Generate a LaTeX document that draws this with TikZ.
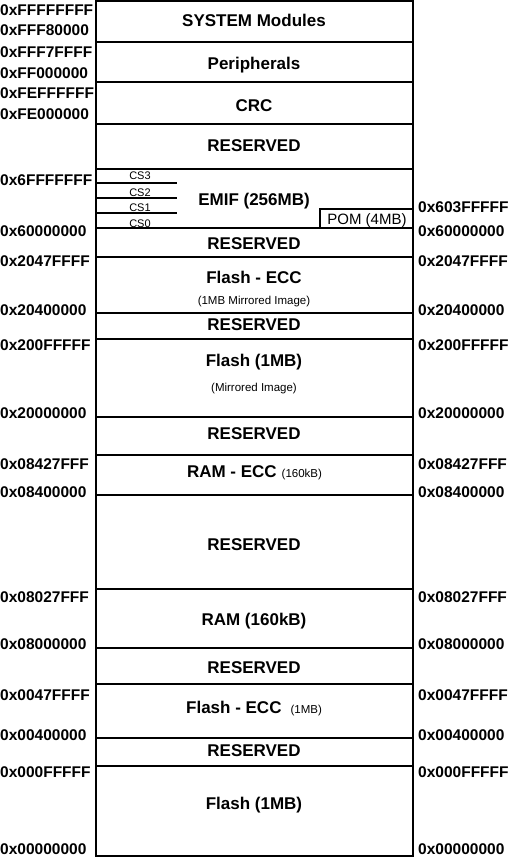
\documentclass[tikz,border=0pt]{standalone}
\usepackage{fontspec}
\setmainfont{Liberation Sans}
\begin{document}
\begin{tikzpicture}[x=1pt,y=-1pt,
  addr/.style={font=\fontsize{15.5}{16}\selectfont\bfseries, anchor=base west, inner sep=0pt},
  big/.style={font=\fontsize{17}{18}\selectfont\bfseries, anchor=base, inner sep=0pt},
  note/.style={font=\fontsize{11.5}{12}\selectfont, anchor=base, inner sep=0pt},
  cs/.style={font=\fontsize{11}{12}\selectfont, anchor=base, inner sep=0pt},
  divider/.style={line width=1.5pt},
  frame/.style={line width=1.6pt}]
\useasboundingbox (0,0) rectangle (509,857);
% outer frame
\draw[frame] (96,1) rectangle (413,856);
% dividers
\foreach \yy in {42,82,124,169,228,257,313,339,417,455,495,589,648,684,738,766}
  \draw[divider] (96,\yy) -- (413,\yy);
% CS lines
\foreach \yy in {183,198,213}
  \draw[line width=1.2pt] (96,\yy) -- (177,\yy);
% POM box
\draw[line width=1.2pt] (320,228) -- (320,209) -- (413,209);
% left addresses
\node[addr] (l1) at (0,15.5) {0xFFFFFFFF};
\node[addr] (l2) at (0,35.5) {0xFFF80000};
\node[addr] (l3) at (0,57.5) {0xFFF7FFFF};
\node[addr] (l4) at (0,78.5) {0xFF000000};
\node[addr] (l5) at (0,98.5) {0xFEFFFFFF};
\node[addr] (l6) at (0,119.5) {0xFE000000};
\node[addr] (l7) at (0,185.5) {0x6FFFFFFF};
\node[addr] (l8) at (0,236.5) {0x60000000};
\node[addr] (l9) at (0,266.5) {0x2047FFFF};
\node[addr] (l10) at (0,315) {0x20400000};
\node[addr] (l11) at (0,350.5) {0x200FFFFF};
\node[addr] (l12) at (0,418) {0x20000000};
\node[addr] (l13) at (0,469) {0x08427FFF};
\node[addr] (l14) at (0,497) {0x08400000};
\node[addr] (l15) at (0,602) {0x08027FFF};
\node[addr] (l16) at (0,649) {0x08000000};
\node[addr] (l17) at (0,700.5) {0x0047FFFF};
\node[addr] (l18) at (0,740.5) {0x00400000};
\node[addr] (l19) at (0,777) {0x000FFFFF};
\node[addr] (l20) at (0,854.5) {0x00000000};
% right addresses
\node[addr] (r1) at (418,212.5) {0x603FFFFF};
\node[addr] (r2) at (418,236.5) {0x60000000};
\node[addr] (r3) at (418,266.5) {0x2047FFFF};
\node[addr] (r4) at (418,315) {0x20400000};
\node[addr] (r5) at (418,350.5) {0x200FFFFF};
\node[addr] (r6) at (418,418) {0x20000000};
\node[addr] (r7) at (418,469) {0x08427FFF};
\node[addr] (r8) at (418,497) {0x08400000};
\node[addr] (r9) at (418,602) {0x08027FFF};
\node[addr] (r10) at (418,649) {0x08000000};
\node[addr] (r11) at (418,700.5) {0x0047FFFF};
\node[addr] (r12) at (418,740.5) {0x00400000};
\node[addr] (r13) at (418,777) {0x000FFFFF};
\node[addr] (r14) at (418,854.5) {0x00000000};
% region labels
\node[big] (sys) at (254,26) {SYSTEM Modules};
\node[big] (per) at (254,69) {Peripherals};
\node[big] (crc) at (254,111) {CRC};
\node[big] (res1) at (254,151) {RESERVED};
\node[big] (emif) at (254,205) {EMIF (256MB)};
\node[cs] (cs3) at (140,179) {CS3};
\node[cs] (cs2) at (140,196) {CS2};
\node[cs] (cs1) at (140,211) {CS1};
\node[cs] (cs0) at (140,227) {CS0};
\node[font=\fontsize{15}{16}\selectfont, anchor=base, inner sep=0pt] (pom) at (367,224) {POM (4MB)};
\node[big] (res2) at (254,249.5) {RESERVED};
\node[big] (fecc) at (254,283) {Flash - ECC};
\node[note] (fecc2) at (254,304) {(1MB Mirrored Image)};
\node[big] (res3) at (254,330) {RESERVED};
\node[big] (fl1) at (254,366) {Flash (1MB)};
\node[note] (fl1b) at (254,391.5) {(Mirrored Image)};
\node[big] (res4) at (254,439) {RESERVED};
\node[big] (recc) at (254.5,477) {RAM - ECC\hspace{5pt}{\fontsize{11.5}{12}\selectfont\mdseries (160kB)}};
\node[big] (res5) at (254,550) {RESERVED};
\node[big] (ram) at (254,625) {RAM (160kB)};
\node[big] (res6) at (254,673) {RESERVED};
\node[big] (fecc3) at (254,713) {Flash - ECC\hspace{9pt}{\fontsize{11.5}{12}\selectfont\mdseries (1MB)}};
\node[big] (res7) at (254,756) {RESERVED};
\node[big] (fl0) at (254,809) {Flash (1MB)};
\end{tikzpicture}
\end{document}
